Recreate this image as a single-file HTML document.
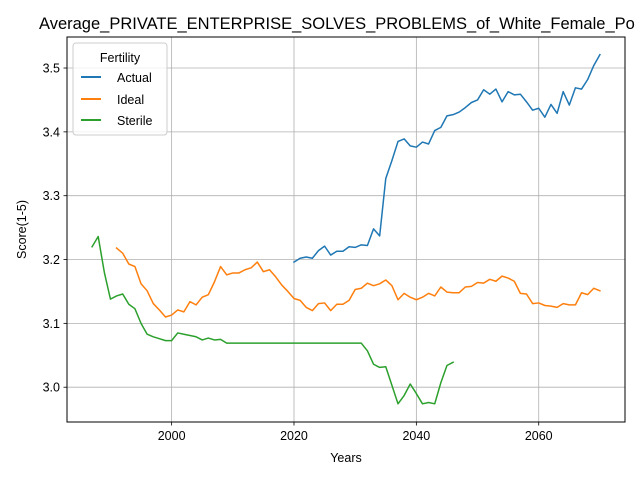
<!DOCTYPE html>
<html><head><meta charset="utf-8"><style>
body{margin:0;background:#fff;}
svg{display:block;font-family:"Liberation Sans","DejaVu Sans",sans-serif;}
</style></head><body>
<svg id="chart" width="640" height="480" viewBox="0 0 640 480" xmlns="http://www.w3.org/2000/svg">
<rect width="640" height="480" fill="#fff"/>
<text x="39" y="29" font-size="16.5" fill="#000">Average_PRIVATE_ENTERPRISE_SOLVES_PROBLEMS_of_White_Female_Po</text>
<g id="grid"></g>
<g id="series"></g>
<rect x="67" y="37" width="558" height="385" fill="none" stroke="#000" stroke-width="1"/>
<g id="ticks" font-size="12.5" fill="#000"></g>
<text x="346" y="462" font-size="12.5" text-anchor="middle">Years</text>
<text x="26" y="229.5" font-size="12.5" text-anchor="middle" transform="rotate(-90 26 229.5)">Score(1-5)</text>
<g>
<rect x="73" y="43" width="94" height="92" rx="3" fill="#fff" fill-opacity="0.8" stroke="#ccc"/>
<text x="120" y="62" font-size="12.5" text-anchor="middle">Fertility</text>
<line x1="81" y1="77" x2="101" y2="77" stroke="#1f77b4" stroke-width="2"/>
<text x="117" y="82" font-size="12.5">Actual</text>
<line x1="81" y1="99" x2="101" y2="99" stroke="#ff7f0e" stroke-width="2"/>
<text x="117" y="104" font-size="12.5">Ideal</text>
<line x1="81" y1="120" x2="101" y2="120" stroke="#2ca02c" stroke-width="2"/>
<text x="117" y="125" font-size="12.5">Sterile</text>
</g>
</svg>
<script>
const xTicks=[2000,2020,2040,2060];
const yTicks=[3.0,3.1,3.2,3.3,3.4,3.5];
const actualStart=2020;
const actualValues=[3.196,3.202,3.204,3.202,3.214,3.221,3.207,3.213,3.213,3.22,3.219,3.223,3.222,3.248,3.237,3.327,3.355,3.385,3.389,3.378,3.376,3.384,3.381,3.402,3.407,3.425,3.427,3.431,3.438,3.446,3.45,3.466,3.459,3.467,3.447,3.463,3.458,3.459,3.447,3.434,3.437,3.423,3.443,3.429,3.463,3.442,3.469,3.467,3.482,3.504,3.521];
const idealStart=1991;
const idealValues=[3.218,3.21,3.193,3.189,3.162,3.151,3.131,3.121,3.11,3.113,3.121,3.118,3.134,3.129,3.141,3.145,3.165,3.189,3.176,3.179,3.179,3.184,3.187,3.196,3.181,3.184,3.173,3.16,3.15,3.139,3.136,3.125,3.12,3.131,3.132,3.12,3.13,3.13,3.136,3.153,3.155,3.163,3.159,3.162,3.168,3.159,3.137,3.147,3.141,3.137,3.141,3.147,3.143,3.157,3.149,3.148,3.148,3.157,3.158,3.164,3.163,3.169,3.166,3.174,3.171,3.166,3.147,3.146,3.131,3.132,3.128,3.127,3.125,3.131,3.129,3.129,3.148,3.145,3.155,3.151];
const sterileStart=1987;
const sterileValues=[3.22,3.236,3.18,3.138,3.143,3.146,3.13,3.123,3.1,3.083,3.079,3.076,3.073,3.073,3.085,3.083,3.081,3.079,3.074,3.077,3.074,3.075,3.069,3.069,3.069,3.069,3.069,3.069,3.069,3.069,3.069,3.069,3.069,3.069,3.069,3.069,3.069,3.069,3.069,3.069,3.069,3.069,3.069,3.069,3.069,3.057,3.036,3.031,3.032,3.003,2.974,2.987,3.005,2.99,2.974,2.976,2.974,3.007,3.034,3.039];

const NS="http://www.w3.org/2000/svg";
const L=67,R=625,T=37,B=422;
const xMin=1982.9,xMax=2074.1,yMin=2.9455,yMax=3.5486;
function xs(v){return L+(v-xMin)/(xMax-xMin)*(R-L);}
function ys(v){return B-(v-yMin)/(yMax-yMin)*(B-T);}
function mk(tag,attrs,parent){const e=document.createElementNS(NS,tag);for(const k in attrs)e.setAttribute(k,attrs[k]);parent.appendChild(e);return e;}
const grid=document.getElementById('grid'),ticks=document.getElementById('ticks'),series=document.getElementById('series');
xTicks.forEach(t=>{
  const x=xs(t);
  const g=mk('line',{x1:x,x2:x,y1:T,y2:B,stroke:'#b0b0b0','stroke-width':0.8},grid);
  
  
  mk('line',{x1:x,x2:x,y1:B,y2:B+3.5,stroke:'#000','stroke-width':0.8},ticks);
  const tx=mk('text',{x:x,y:B+18,'text-anchor':'middle'},ticks);
  tx.textContent=String(t);
  
  
});
yTicks.forEach(t=>{
  const y=ys(t);
  const g=mk('line',{x1:L,x2:R,y1:y,y2:y,stroke:'#b0b0b0','stroke-width':0.8},grid);
  
  
  mk('line',{x1:L-3.5,x2:L,y1:y,y2:y,stroke:'#000','stroke-width':0.8},ticks);
  const tx=mk('text',{x:L-7,y:y+4.5,'text-anchor':'end'},ticks);
  tx.textContent=t.toFixed(1);
  
  
});
function draw(start,vals,color,name){
  const pts=vals.map((v,i)=>xs(start+i).toFixed(2)+','+ys(v).toFixed(2)).join(' ');
  const p=mk('polyline',{points:pts,fill:'none',stroke:color,'stroke-width':1.5,'stroke-linejoin':'round','stroke-linecap':'square'},series);
  
  
}
draw(actualStart,actualValues,'#1f77b4','actual-line');
draw(idealStart,idealValues,'#ff7f0e','ideal-line');
draw(sterileStart,sterileValues,'#2ca02c','sterile-line');
</script>
</body></html>
